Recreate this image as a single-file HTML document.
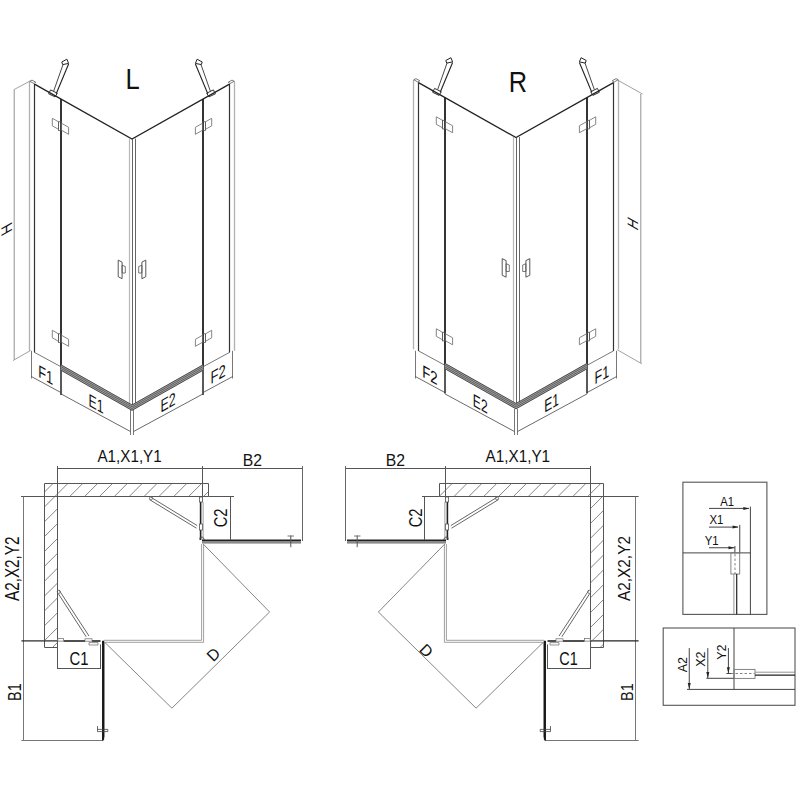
<!DOCTYPE html>
<html><head><meta charset="utf-8"><style>
html,body{margin:0;padding:0;background:#fff;}
svg{display:block;font-family:"Liberation Sans", sans-serif;}
</style></head><body>
<svg width="800" height="800" viewBox="0 0 800 800" stroke-linecap="butt">
<defs>
<g id="iso">
<line x1="29.50" y1="81.50" x2="29.50" y2="350.80" stroke="#b0b0b0" stroke-width="1.3" />
<line x1="34.50" y1="84.11" x2="34.50" y2="352.40" stroke="#333" stroke-width="1.2" />
<polygon points="29.75,81.25 32.00,80.10 35.75,82.30 33.90,83.50" stroke="#555" stroke-width="0.8" fill="none"/>
<line x1="61.00" y1="99.06" x2="61.00" y2="366.80" stroke="#2a2a2a" stroke-width="1.9" />
<line x1="61.00" y1="366.80" x2="61.00" y2="395.00" stroke="#222" stroke-width="1.5" />
<line x1="34.50" y1="352.40" x2="61.00" y2="366.80" stroke="#555" stroke-width="0.8" />
<polygon points="52.30,118.30 58.50,121.80 58.50,129.30 52.30,125.80" stroke="#777" stroke-width="0.9" fill="none"/>
<polygon points="61.40,123.20 68.60,127.30 68.60,134.30 61.40,130.20" stroke="#777" stroke-width="0.9" fill="none"/>
<rect x="58.50" y="121.80" width="2.60" height="8.60" stroke="#555" stroke-width="0.8" fill="none"/>
<polygon points="52.30,330.30 58.50,333.80 58.50,341.30 52.30,337.80" stroke="#777" stroke-width="0.9" fill="none"/>
<polygon points="61.40,335.20 68.60,339.30 68.60,346.30 61.40,342.20" stroke="#777" stroke-width="0.9" fill="none"/>
<rect x="58.50" y="333.80" width="2.60" height="8.60" stroke="#555" stroke-width="0.8" fill="none"/>
<polygon points="118.20,260.10 122.10,262.10 122.10,278.70 118.20,276.70" stroke="#444" stroke-width="0.9" fill="none"/>
<polygon points="122.10,265.20 125.30,266.50 125.30,273.00 122.10,273.00" stroke="#555" stroke-width="0.8" fill="none"/>
<polygon points="57.30,93.25 50.60,89.90 48.60,93.80 55.10,96.90" stroke="#333" stroke-width="1.0" fill="none"/>
<line x1="68.60" y1="64.00" x2="56.20" y2="93.80" stroke="#222" stroke-width="1.1" />
<line x1="63.00" y1="64.60" x2="53.70" y2="91.00" stroke="#333" stroke-width="0.9" />
<polygon points="68.60,63.40 66.90,59.20 61.80,62.00 62.70,64.60" stroke="#222" stroke-width="1.0" fill="none"/>
<line x1="234.50" y1="81.50" x2="234.50" y2="350.80" stroke="#b0b0b0" stroke-width="1.3" />
<line x1="229.50" y1="84.11" x2="229.50" y2="352.40" stroke="#333" stroke-width="1.2" />
<polygon points="234.25,81.25 232.00,80.10 228.25,82.30 230.10,83.50" stroke="#555" stroke-width="0.8" fill="none"/>
<line x1="203.00" y1="99.06" x2="203.00" y2="366.80" stroke="#2a2a2a" stroke-width="1.9" />
<line x1="203.00" y1="366.80" x2="203.00" y2="395.00" stroke="#222" stroke-width="1.5" />
<line x1="229.50" y1="352.40" x2="203.00" y2="366.80" stroke="#555" stroke-width="0.8" />
<polygon points="211.70,118.30 205.50,121.80 205.50,129.30 211.70,125.80" stroke="#777" stroke-width="0.9" fill="none"/>
<polygon points="202.60,123.20 195.40,127.30 195.40,134.30 202.60,130.20" stroke="#777" stroke-width="0.9" fill="none"/>
<rect x="202.90" y="121.80" width="2.60" height="8.60" stroke="#555" stroke-width="0.8" fill="none"/>
<polygon points="211.70,330.30 205.50,333.80 205.50,341.30 211.70,337.80" stroke="#777" stroke-width="0.9" fill="none"/>
<polygon points="202.60,335.20 195.40,339.30 195.40,346.30 202.60,342.20" stroke="#777" stroke-width="0.9" fill="none"/>
<rect x="202.90" y="333.80" width="2.60" height="8.60" stroke="#555" stroke-width="0.8" fill="none"/>
<polygon points="145.80,260.10 141.90,262.10 141.90,278.70 145.80,276.70" stroke="#444" stroke-width="0.9" fill="none"/>
<polygon points="141.90,265.20 138.70,266.50 138.70,273.00 141.90,273.00" stroke="#555" stroke-width="0.8" fill="none"/>
<polygon points="206.70,93.25 213.40,89.90 215.40,93.80 208.90,96.90" stroke="#333" stroke-width="1.0" fill="none"/>
<line x1="195.40" y1="64.00" x2="207.80" y2="93.80" stroke="#222" stroke-width="1.1" />
<line x1="201.00" y1="64.60" x2="210.30" y2="91.00" stroke="#333" stroke-width="0.9" />
<polygon points="195.40,63.40 197.10,59.20 202.20,62.00 201.30,64.60" stroke="#222" stroke-width="1.0" fill="none"/>
<polyline points="34.50,84.11 132.00,139.10 229.50,84.11" stroke="#222" stroke-width="1.3" fill="none"/>
<line x1="129.50" y1="138.60" x2="129.50" y2="404.00" stroke="#b8b8b8" stroke-width="1.2" />
<line x1="132.50" y1="139.10" x2="132.50" y2="405.00" stroke="#555" stroke-width="0.9" />
<line x1="135.50" y1="138.60" x2="135.50" y2="404.00" stroke="#555" stroke-width="0.9" />
<polygon points="61.00,364.60 132.00,404.64 203.00,364.60 203.00,370.60 132.00,410.64 61.00,370.60" stroke="none" stroke-width="0" fill="#a4a4a4"/>
<polyline points="61.00,364.90 132.00,404.94 203.00,364.90" stroke="#333" stroke-width="0.8" fill="none"/>
<polyline points="61.00,366.70 132.00,406.74 203.00,366.70" stroke="#444" stroke-width="0.7" fill="none"/>
<polyline points="61.00,368.50 132.00,408.54 203.00,368.50" stroke="#444" stroke-width="0.7" fill="none"/>
<polyline points="61.00,370.30 132.00,410.34 203.00,370.30" stroke="#333" stroke-width="0.8" fill="none"/>
</g>
<g id="isodim">
<line x1="31.50" y1="350.80" x2="31.50" y2="378.50" stroke="#555" stroke-width="0.8" />
<line x1="31.50" y1="376.60" x2="61.00" y2="392.60" stroke="#444" stroke-width="0.8" />
<line x1="61.00" y1="393.90" x2="130.40" y2="431.50" stroke="#444" stroke-width="0.8" />
<line x1="232.50" y1="350.80" x2="232.50" y2="378.50" stroke="#555" stroke-width="0.8" />
<line x1="232.50" y1="376.60" x2="203.00" y2="392.60" stroke="#444" stroke-width="0.8" />
<line x1="203.00" y1="393.90" x2="133.60" y2="431.50" stroke="#444" stroke-width="0.8" />
<line x1="130.50" y1="409.00" x2="130.50" y2="435.00" stroke="#555" stroke-width="0.8" />
<line x1="133.50" y1="409.00" x2="133.50" y2="435.00" stroke="#555" stroke-width="0.8" />
</g>
<g id="plan">
<polyline points="57.50,647.50 44.50,647.50 44.50,483.50 208.50,483.50 208.50,496.50" stroke="#555" stroke-width="1.0" fill="none"/>
<line x1="57.50" y1="466.00" x2="57.50" y2="669.00" stroke="#555" stroke-width="1.0" />
<line x1="57.50" y1="496.50" x2="208.50" y2="496.50" stroke="#555" stroke-width="1.0" />
<line x1="44.40" y1="640.90" x2="58.00" y2="640.90" stroke="#222" stroke-width="1.2" />
<line x1="57.50" y1="468.50" x2="302.50" y2="468.50" stroke="#555" stroke-width="1.0" />
<line x1="202.50" y1="466.00" x2="202.50" y2="502.00" stroke="#555" stroke-width="1.0" />
<line x1="302.50" y1="466.00" x2="302.50" y2="541.00" stroke="#666" stroke-width="1.0" />
<line x1="100.50" y1="644.50" x2="100.50" y2="669.00" stroke="#555" stroke-width="1.0" />
<line x1="57.50" y1="668.50" x2="100.50" y2="668.50" stroke="#555" stroke-width="1.0" />
<line x1="63.50" y1="641.00" x2="85.00" y2="641.00" stroke="#222" stroke-width="1.6" />
<line x1="92.00" y1="641.00" x2="100.50" y2="641.00" stroke="#222" stroke-width="1.6" />
<rect x="57.80" y="638.50" width="5.70" height="2.60" stroke="#666" stroke-width="0.7" fill="#fff"/>
<rect x="85.00" y="638.80" width="7.00" height="2.40" stroke="#666" stroke-width="0.7" fill="#fff"/>
<polygon points="89.00,642.60 98.00,642.60 98.00,645.00 89.00,645.00" stroke="#666" stroke-width="0.7" fill="none"/>
<polyline points="104.00,640.30 201.60,640.30 201.60,544.00" stroke="#888" stroke-width="0.8" fill="none"/>
<polyline points="104.00,642.30 203.60,642.30 203.60,544.00" stroke="#888" stroke-width="0.8" fill="none"/>
<line x1="203.60" y1="544.40" x2="269.60" y2="612.00" stroke="#666" stroke-width="0.8" />
<line x1="104.40" y1="642.00" x2="171.90" y2="708.20" stroke="#666" stroke-width="0.8" />
<line x1="171.90" y1="708.20" x2="269.60" y2="612.00" stroke="#666" stroke-width="0.8" />
<line x1="200.60" y1="502.00" x2="200.60" y2="540.00" stroke="#222" stroke-width="1.6" />
<line x1="203.20" y1="502.00" x2="203.20" y2="540.00" stroke="#c0c0c0" stroke-width="1.5" />
<rect x="199.40" y="497.00" width="3.20" height="5.00" stroke="#555" stroke-width="0.8" fill="#fff"/>
<rect x="199.40" y="524.00" width="3.20" height="6.00" stroke="#555" stroke-width="0.8" fill="#fff"/>
<polyline points="200.00,540.00 200.00,537.50 202.50,537.00 204.50,539.50" stroke="#444" stroke-width="0.9" fill="none"/>
<rect x="202.00" y="540.60" width="99.00" height="3.00" stroke="none" stroke-width="0" fill="#8a8a8a"/>
<line x1="202.00" y1="540.20" x2="301.00" y2="540.20" stroke="#222" stroke-width="1.4" />
<line x1="290.80" y1="535.60" x2="290.80" y2="547.20" stroke="#555" stroke-width="1.0" />
<line x1="287.50" y1="536.00" x2="294.00" y2="536.00" stroke="#555" stroke-width="0.8" />
<line x1="104.20" y1="643.00" x2="104.20" y2="737.50" stroke="#9a9a9a" stroke-width="1.5" />
<polygon points="102.60,641.00 102.60,740.80 103.60,739.50 103.60,641.00" stroke="#111" stroke-width="1.0" fill="#111"/>
<polyline points="97.50,726.00 97.50,731.60 107.80,731.60 107.80,729.40 97.50,729.40" stroke="#444" stroke-width="0.8" fill="none"/>
<line x1="102.40" y1="740.50" x2="60.00" y2="740.50" stroke="#777" stroke-width="1.0" />
<line x1="150.50" y1="497.00" x2="197.20" y2="525.60" stroke="#555" stroke-width="0.9" />
<line x1="149.50" y1="499.60" x2="196.50" y2="528.20" stroke="#555" stroke-width="0.9" />
<line x1="59.00" y1="590.00" x2="89.00" y2="636.00" stroke="#555" stroke-width="0.9" />
<line x1="58.20" y1="593.50" x2="86.20" y2="636.80" stroke="#555" stroke-width="0.9" />
<circle cx="151" cy="498.3" r="1.6" fill="none" stroke="#666" stroke-width="0.8"/>
<circle cx="58.8" cy="591.8" r="1.6" fill="none" stroke="#666" stroke-width="0.8"/>
</g>
<clipPath id="hatchL"><path d="M44.5,483.5H208.5V496.5H57.5V647.5H44.5Z"/></clipPath>
<clipPath id="hatchR"><path d="M603.5,483.5H439.5V496.5H590.5V647.5H603.5Z"/></clipPath>
</defs>
<use href="#iso"/>
<use href="#iso" x="384" y="-1.5"/>
<use href="#isodim"/>
<use href="#isodim" x="384"/>
<use href="#plan"/>
<use href="#plan" transform="translate(648,0) scale(-1,1)"/>
<line x1="21.00" y1="496.50" x2="57.50" y2="496.50" stroke="#555" stroke-width="1.0" />
<line x1="208.50" y1="496.50" x2="234.00" y2="496.50" stroke="#555" stroke-width="1.0" />
<line x1="230.50" y1="496.50" x2="230.50" y2="540.00" stroke="#555" stroke-width="1.0" />
<line x1="23.50" y1="496.50" x2="23.50" y2="741.00" stroke="#777" stroke-width="1.0" />
<line x1="21.40" y1="740.50" x2="60.00" y2="740.50" stroke="#777" stroke-width="1.0" />
<line x1="21.40" y1="640.90" x2="44.40" y2="640.90" stroke="#222" stroke-width="1.2" />
<line x1="590.50" y1="496.50" x2="638.60" y2="496.50" stroke="#555" stroke-width="1.0" />
<line x1="422.00" y1="496.50" x2="439.50" y2="496.50" stroke="#555" stroke-width="1.0" />
<line x1="424.50" y1="496.50" x2="424.50" y2="540.00" stroke="#555" stroke-width="1.0" />
<line x1="635.50" y1="496.50" x2="635.50" y2="741.00" stroke="#777" stroke-width="1.0" />
<line x1="588.00" y1="740.50" x2="638.60" y2="740.50" stroke="#777" stroke-width="1.0" />
<line x1="603.60" y1="640.90" x2="638.60" y2="640.90" stroke="#222" stroke-width="1.2" />
<path clip-path="url(#hatchL)" d="M-111.50,648.00L53.50,483.00M-96.64,648.00L68.36,483.00M-81.78,648.00L83.22,483.00M-66.92,648.00L98.08,483.00M-52.06,648.00L112.94,483.00M-37.20,648.00L127.80,483.00M-22.34,648.00L142.66,483.00M-7.48,648.00L157.52,483.00M7.38,648.00L172.38,483.00M22.24,648.00L187.24,483.00M37.10,648.00L202.10,483.00M51.96,648.00L216.96,483.00M66.82,648.00L231.82,483.00M81.68,648.00L246.68,483.00M96.54,648.00L261.54,483.00M111.40,648.00L276.40,483.00M126.26,648.00L291.26,483.00M141.12,648.00L306.12,483.00M155.98,648.00L320.98,483.00M170.84,648.00L335.84,483.00M185.70,648.00L350.70,483.00M200.56,648.00L365.56,483.00" stroke="#666" stroke-width="0.8" fill="none"/>
<path clip-path="url(#hatchR)" d="M287.60,648.00L452.60,483.00M302.46,648.00L467.46,483.00M317.32,648.00L482.32,483.00M332.18,648.00L497.18,483.00M347.04,648.00L512.04,483.00M361.90,648.00L526.90,483.00M376.76,648.00L541.76,483.00M391.62,648.00L556.62,483.00M406.48,648.00L571.48,483.00M421.34,648.00L586.34,483.00M436.20,648.00L601.20,483.00M451.06,648.00L616.06,483.00M465.92,648.00L630.92,483.00M480.78,648.00L645.78,483.00M495.64,648.00L660.64,483.00M510.50,648.00L675.50,483.00M525.36,648.00L690.36,483.00M540.22,648.00L705.22,483.00M555.08,648.00L720.08,483.00M569.94,648.00L734.94,483.00M584.80,648.00L749.80,483.00M599.66,648.00L764.66,483.00" stroke="#666" stroke-width="0.8" fill="none"/>
<line x1="14.20" y1="89.50" x2="14.20" y2="359.50" stroke="#777" stroke-width="0.8" />
<line x1="14.20" y1="89.50" x2="29.75" y2="81.20" stroke="#777" stroke-width="0.7" />
<line x1="12.90" y1="360.60" x2="30.40" y2="350.60" stroke="#777" stroke-width="0.7" />
<line x1="640.80" y1="94.00" x2="640.80" y2="363.00" stroke="#777" stroke-width="0.8" />
<line x1="618.40" y1="80.50" x2="642.50" y2="94.00" stroke="#777" stroke-width="0.7" />
<line x1="617.20" y1="349.70" x2="641.80" y2="363.80" stroke="#777" stroke-width="0.7" />
<rect x="682.9" y="482.2" width="84" height="132.2" fill="none" stroke="#555" stroke-width="1.1"/>
<line x1="682.9" y1="552.9" x2="751" y2="552.9" stroke="#444" stroke-width="1.0"/>
<line x1="750.4" y1="506.6" x2="750.4" y2="614.4" stroke="#444" stroke-width="1.0"/>
<line x1="709.0" y1="508.4" x2="749.0" y2="508.4" stroke="#444" stroke-width="1.0"/>
<line x1="739.75" y1="524.9" x2="739.75" y2="552.9" stroke="#444" stroke-width="1.0"/>
<line x1="709.0" y1="527.1" x2="738.0" y2="527.1" stroke="#444" stroke-width="1.0"/>
<line x1="734.9" y1="546.0" x2="734.9" y2="552.9" stroke="#444" stroke-width="1.0"/>
<line x1="709.0" y1="547.75" x2="734.5" y2="547.75" stroke="#444" stroke-width="1.0"/>
<rect x="730.9" y="552.9" width="8.8" height="21.1" fill="none" stroke="#777" stroke-width="0.9"/>
<line x1="735" y1="554" x2="735" y2="574" stroke="#777" stroke-width="0.9" stroke-dasharray="2.5,2"/>
<line x1="733.9" y1="574" x2="733.9" y2="614.4" stroke="#888" stroke-width="0.9"/>
<line x1="736.7" y1="574" x2="736.7" y2="614.4" stroke="#222" stroke-width="1.2"/>
<rect x="663.2" y="628" width="131.8" height="77.3" fill="none" stroke="#555" stroke-width="1.1"/>
<line x1="734.0" y1="628" x2="734.0" y2="689.3" stroke="#444" stroke-width="1.0"/>
<line x1="687.0" y1="689.4" x2="795" y2="689.4" stroke="#444" stroke-width="1.0"/>
<line x1="689.25" y1="648.1" x2="689.25" y2="689.0" stroke="#444" stroke-width="1.0"/>
<line x1="707.8" y1="648.1" x2="707.8" y2="678.0" stroke="#444" stroke-width="1.0"/>
<line x1="706.3" y1="678.3" x2="734.0" y2="678.3" stroke="#444" stroke-width="1.0"/>
<line x1="728.4" y1="648.1" x2="728.4" y2="673.4" stroke="#444" stroke-width="1.0"/>
<line x1="726.4" y1="673.5" x2="731.25" y2="673.5" stroke="#444" stroke-width="1.0"/>
<line x1="731" y1="673.5" x2="754.7" y2="673.5" stroke="#777" stroke-width="0.9" stroke-dasharray="2.5,2"/>
<rect x="734.0" y="669.4" width="21.0" height="9" fill="none" stroke="#777" stroke-width="0.9"/>
<line x1="755" y1="672.2" x2="795" y2="672.2" stroke="#888" stroke-width="0.9"/>
<line x1="755" y1="675.2" x2="795" y2="675.2" stroke="#222" stroke-width="1.2"/>
<polygon points="749.3,508.4 743.3,506.9 743.3,509.9" fill="#222"/>
<polygon points="738.6,527.1 732.6,525.6 732.6,528.6" fill="#222"/>
<polygon points="734.5,547.75 728.5,546.25 728.5,549.25" fill="#222"/>
<polygon points="689.25,689.0 687.75,683.0 690.75,683.0" fill="#222"/>
<polygon points="707.8,678.0 706.3,672.0 709.3,672.0" fill="#222"/>
<polygon points="728.4,673.3 726.9,667.3 729.9,667.3" fill="#222"/>
<text x="0" y="0" font-size="100" fill="#111" transform="matrix(0.25624,0.00000,0.00000,0.28924,125.60,89.00)">L</text>
<text x="0" y="0" font-size="100" fill="#111" transform="matrix(0.25379,0.00000,0.00000,0.28924,508.67,91.80)">R</text>
<text x="0" y="0" font-size="100" fill="#111" transform="matrix(0.12741,0.07186,-0.00000,0.17442,38.26,376.81)">F1</text>
<text x="0" y="0" font-size="100" fill="#111" transform="matrix(0.12363,0.06973,-0.00000,0.17878,88.49,405.63)">E1</text>
<text x="0" y="0" font-size="100" fill="#111" transform="matrix(0.12374,-0.06979,-0.00000,0.17878,160.49,412.77)">E2</text>
<text x="0" y="0" font-size="100" fill="#111" transform="matrix(0.13043,-0.07357,-0.00000,0.17442,210.43,384.20)">F2</text>
<text x="0" y="0" font-size="100" fill="#111" transform="matrix(0.13237,0.07466,-0.00000,0.17442,422.21,376.79)">F2</text>
<text x="0" y="0" font-size="100" fill="#111" transform="matrix(0.12099,0.06824,-0.00000,0.17878,472.81,405.64)">E2</text>
<text x="0" y="0" font-size="100" fill="#111" transform="matrix(0.12088,-0.06818,-0.00000,0.17878,544.31,412.76)">E1</text>
<text x="0" y="0" font-size="100" fill="#111" transform="matrix(0.12548,-0.07077,-0.00000,0.17442,594.47,384.58)">F1</text>
<text x="0" y="0" font-size="100" fill="#111" transform="matrix(0.00000,-0.13953,0.15407,-0.08690,11.90,231.34)">H</text>
<text x="0" y="0" font-size="100" fill="#111" transform="matrix(0.00000,-0.13238,0.15116,0.08526,638.20,231.29)">H</text>
<text x="0" y="0" font-size="100" fill="#111" transform="matrix(0.15213,0.00000,0.00000,0.16715,97.47,461.70)">A1,X1,Y1</text>
<text x="0" y="0" font-size="100" fill="#111" transform="matrix(0.15285,0.00000,0.00000,0.16715,485.57,461.90)">A1,X1,Y1</text>
<text x="0" y="0" font-size="100" fill="#111" transform="matrix(0.15765,0.00000,0.00000,0.17151,242.71,465.80)">B2</text>
<text x="0" y="0" font-size="100" fill="#111" transform="matrix(0.15765,0.00000,0.00000,0.17151,385.71,465.80)">B2</text>
<text x="0" y="0" font-size="100" fill="#111" transform="matrix(0.00000,-0.15277,0.19622,0.00000,18.75,601.03)">A2,X2,Y2</text>
<text x="0" y="0" font-size="100" fill="#111" transform="matrix(0.00000,-0.15397,0.16279,0.00000,629.60,601.03)">A2,X2,Y2</text>
<text x="0" y="0" font-size="100" fill="#111" transform="matrix(0.00000,-0.14656,0.17442,0.00000,227.00,527.25)">C2</text>
<text x="0" y="0" font-size="100" fill="#111" transform="matrix(0.00000,-0.14656,0.18169,0.00000,421.50,527.25)">C2</text>
<text x="0" y="0" font-size="100" fill="#111" transform="matrix(0.14856,0.00000,0.00000,0.17805,69.49,665.25)">C1</text>
<text x="0" y="0" font-size="100" fill="#111" transform="matrix(0.14431,0.00000,0.00000,0.17805,559.26,665.25)">C1</text>
<text x="0" y="0" font-size="100" fill="#111" transform="matrix(0.00000,-0.14423,0.17442,0.00000,21.00,700.93)">B1</text>
<text x="0" y="0" font-size="100" fill="#111" transform="matrix(0.00000,-0.14423,0.17078,0.00000,633.00,700.93)">B1</text>
<text x="0" y="0" font-size="100" fill="#111" transform="matrix(0.11305,-0.11305,0.11305,0.11305,213.22,662.41)">D</text>
<text x="0" y="0" font-size="100" fill="#111" transform="matrix(0.11305,0.11305,-0.11305,0.11305,418.24,650.52)">D</text>
<text x="0" y="0" font-size="100" fill="#111" transform="matrix(0.11220,0.00000,0.00000,0.12209,720.23,505.90)">A1</text>
<text x="0" y="0" font-size="100" fill="#111" transform="matrix(0.11425,0.00000,0.00000,0.11919,709.49,524.10)">X1</text>
<text x="0" y="0" font-size="100" fill="#111" transform="matrix(0.11372,0.00000,0.00000,0.11991,704.65,544.75)">Y1</text>
<text x="0" y="0" font-size="100" fill="#111" transform="matrix(0.00000,-0.12468,0.12936,0.00000,686.80,672.22)">A2</text>
<text x="0" y="0" font-size="100" fill="#111" transform="matrix(0.00000,-0.12609,0.13299,0.00000,705.40,666.79)">X2</text>
<text x="0" y="0" font-size="100" fill="#111" transform="matrix(0.00000,-0.12598,0.13372,0.00000,726.00,659.78)">Y2</text>
</svg>
</body></html>
